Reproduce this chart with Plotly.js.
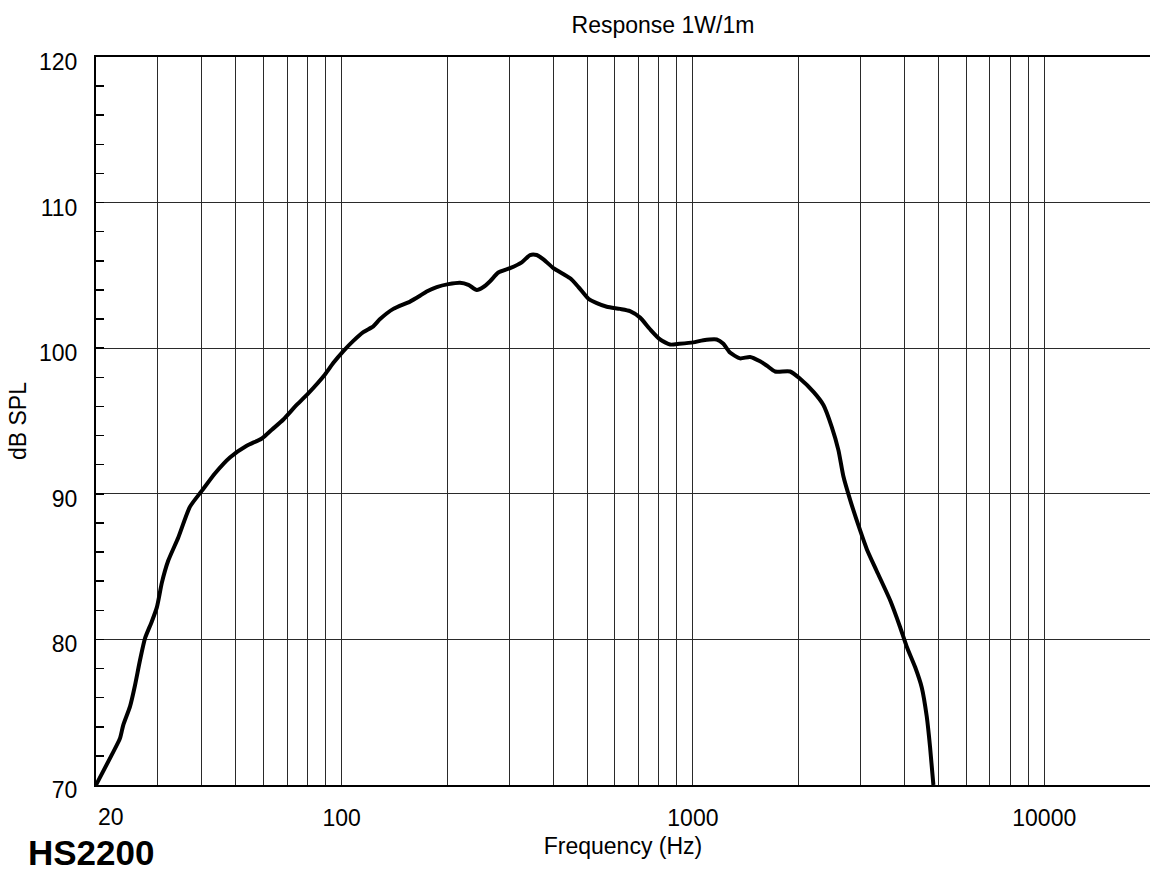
<!DOCTYPE html>
<html>
<head>
<meta charset="utf-8">
<script src="https://cdn.plot.ly/plotly-3.0.1.min.js"></script>
<style>
  html, body { margin: 0; padding: 0; background: #fff; }
  #chart { width: 1150px; height: 873px; }
</style>
</head>
<body>
<div id="chart"></div>
<script>
// Measured response curve (Hz, dB SPL)
const frequencyHz = [20, 22.1, 23.4, 23.9, 25.0, 25.8, 26.7, 27.6, 28.8, 29.8, 30.8, 32.1, 34.3, 37.0, 40.0, 43.6, 48.1, 53.7, 59.3, 63.3, 68.3, 74.5, 80.4, 89.7, 94.8, 101.2, 108, 115.3, 123.1, 128.7, 140.4, 156.6, 167.2, 174.7, 186.6, 201.4, 217.4, 229.6, 242.6, 253.3, 264.7, 279.4, 301.7, 325.7, 343.9, 359.3, 375.5, 400.7, 447.3, 472.4, 504.2, 532.7, 568.8, 620.3, 662.2, 707.4, 755.3, 806.3, 861.3, 915.4, 1002, 1071, 1169, 1221, 1275, 1362, 1454, 1553, 1623, 1714, 1891, 2019, 2204, 2352, 2484, 2595, 2681, 2801, 2991, 3126, 3335, 3640, 3887, 4061, 4290, 4481, 4630, 4732, 4836];
const splDb = [70.0, 72.0, 73.2, 74.1, 75.4, 76.8, 78.6, 80.1, 81.2, 82.2, 83.9, 85.4, 87.0, 89.1, 90.2, 91.4, 92.5, 93.3, 93.8, 94.4, 95.1, 96.1, 96.9, 98.2, 99.0, 99.8, 100.5, 101.1, 101.5, 102.0, 102.7, 103.2, 103.6, 103.9, 104.2, 104.4, 104.5, 104.35, 104.0, 104.2, 104.6, 105.2, 105.5, 105.9, 106.4, 106.4, 106.1, 105.5, 104.8, 104.2, 103.4, 103.1, 102.85, 102.7, 102.55, 102.1, 101.3, 100.6, 100.25, 100.3, 100.4, 100.55, 100.6, 100.3, 99.7, 99.3, 99.4, 99.1, 98.8, 98.4, 98.4, 97.9, 97.0, 96.1, 94.6, 93.0, 91.2, 89.6, 87.5, 86.2, 84.7, 82.7, 80.85, 79.5, 78.1, 76.7, 74.7, 72.6, 70.0];

// Axis grid / tick labels
const xGridValues = [20, 30, 40, 50, 60, 70, 80, 90, 100, 200, 300, 400, 500, 600, 700, 800, 900, 1000, 2000, 3000, 4000, 5000, 6000, 7000, 8000, 9000, 10000];
const xLabeled = {100: '100', 1000: '1000', 10000: '10000'};
const xTickText = xGridValues.map(v => xLabeled[v] || '');
const yTickValues = [70, 80, 90, 100, 110, 120];
const yTickText = ['70', '80', '90', '100', '110', '120'];

const chartTitle = 'Response 1W/1m';
const xTitle = 'Frequency (Hz)';
const yTitle = 'dB SPL';
const modelName = 'HS2200';
const firstFreqLabel = '20';

const FONT = '"Liberation Sans", Arial, Helvetica, sans-serif';
const FS = 23;

const trace = {
  x: frequencyHz,
  y: splDb,
  type: 'scatter',
  mode: 'lines',
  line: { color: '#000', width: 4, shape: 'spline', smoothing: 0.6 },
  hoverinfo: 'skip'
};

const layout = {
  width: 1150,
  height: 873,
  margin: { l: 96, r: 0, t: 57, b: 88 },
  paper_bgcolor: '#fff',
  plot_bgcolor: '#fff',
  showlegend: false,
  font: { family: FONT, size: FS, color: '#000' },
  title: {
    text: chartTitle,
    font: { family: FONT, size: FS, color: '#000' },
    xref: 'container', yref: 'container',
    x: 0.5765, xanchor: 'center',
    y: 0.9714, yanchor: 'middle'
  },
  xaxis: {
    type: 'log',
    range: [Math.log10(20), Math.log10(20000)],
    tickmode: 'array',
    tickvals: xGridValues,
    ticktext: xTickText,
    ticks: '',
    showgrid: true,
    gridcolor: '#2a2a2a',
    gridwidth: 1,
    showline: true,
    mirror: true,
    linecolor: '#000',
    linewidth: 2,
    zeroline: false,
    automargin: false,
    ticklabelstandoff: 11,
    tickfont: { family: FONT, size: FS, color: '#000' },
    title: { text: xTitle, font: { family: FONT, size: FS, color: '#000' }, standoff: 8 }
  },
  yaxis: {
    range: [70, 120],
    tickmode: 'array',
    tickvals: yTickValues,
    ticktext: yTickText,
    ticks: 'inside',
    ticklen: 8,
    tickwidth: 1.5,
    tickcolor: '#000',
    minor: { dtick: 2, tick0: 70, ticks: 'inside', ticklen: 8, tickwidth: 1.5, tickcolor: '#000', showgrid: false },
    showgrid: true,
    gridcolor: '#2a2a2a',
    gridwidth: 1,
    showline: true,
    mirror: false,
    linecolor: '#000',
    linewidth: 2,
    zeroline: false,
    automargin: false,
    ticklabelstandoff: 12,
    ticklabelshift: 5,
    tickfont: { family: FONT, size: FS, color: '#000' },
    title: { text: yTitle, font: { family: FONT, size: FS, color: '#000' }, standoff: 6 }
  },
  annotations: [
    {
      text: firstFreqLabel,
      xref: 'paper', yref: 'paper',
      x: 0, xanchor: 'left', xshift: 0,
      y: 0, yanchor: 'top', yshift: -17,
      showarrow: false,
      font: { family: FONT, size: FS, color: '#000' }
    },
    {
      text: '<b>' + modelName + '</b>',
      xref: 'paper', yref: 'paper',
      x: 0, xanchor: 'left', xshift: -70,
      y: 0, yanchor: 'middle', yshift: -67,
      showarrow: false,
      font: { family: FONT, size: 35, color: '#000' }
    }
  ]
};

Plotly.newPlot('chart', [trace], layout, { displayModeBar: false, staticPlot: true });
</script>
</body>
</html>
